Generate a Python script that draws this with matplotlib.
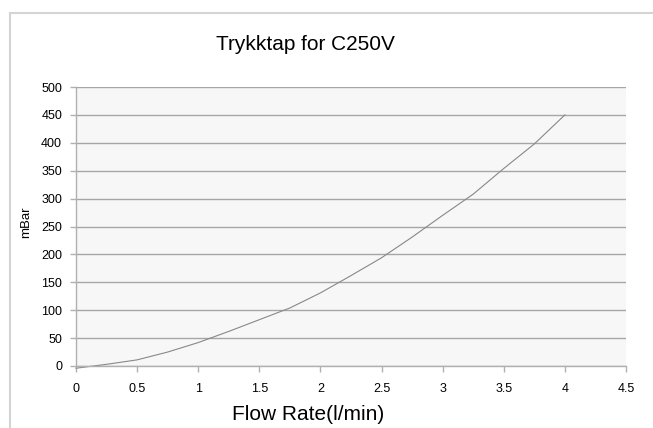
import matplotlib
matplotlib.use("Agg")
import matplotlib.pyplot as plt
from matplotlib.lines import Line2D

plt.rcParams['font.family'] = ['Liberation Sans', 'DejaVu Sans']

# Data
flow_rate = [0, 0.25, 0.5, 0.75, 1.0, 1.25, 1.5, 1.75, 2.0, 2.25, 2.5, 2.75,
             3.0, 3.25, 3.5, 3.75, 4.0]
pressure_mbar = [-4, 3, 11, 25, 42, 62, 83, 104, 131, 162, 194, 231,
                 270, 308, 354, 398, 450]

x_ticks = [0, 0.5, 1, 1.5, 2, 2.5, 3, 3.5, 4, 4.5]
x_tick_labels = ['0', '0.5', '1', '1.5', '2', '2.5', '3', '3.5', '4', '4.5']
y_ticks = [0, 50, 100, 150, 200, 250, 300, 350, 400, 450, 500]

W, H = 653, 428
fig = plt.figure(figsize=(W / 100, H / 100), dpi=100)
fig.patch.set_facecolor('white')

left, right, top, bottom = 76, 626, 87, 366
ax = fig.add_axes([left / W, 1 - bottom / H, (right - left) / W, (bottom - top) / H])
ax.set_facecolor('#f7f7f7')

ax.plot(flow_rate, pressure_mbar, color='#888888', linewidth=0.8, clip_on=False)

ax.set_xlim(0, 4.5)
ax.set_ylim(0, 500)
ax.set_xticks(x_ticks)
ax.set_xticklabels(x_tick_labels)
ax.set_yticks(y_ticks)
ax.yaxis.grid(True, color='#a6a6a6', linewidth=1.0)
ax.set_axisbelow(True)

for s in ['top', 'right']:
    ax.spines[s].set_visible(False)
for s in ['left', 'bottom']:
    ax.spines[s].set_color('#b0b0b0')
    ax.spines[s].set_linewidth(1.0)

ax.tick_params(axis='both', labelsize=9, colors='#000000', length=4,
               color='#b0b0b0', width=1.0)
ax.tick_params(axis='x', pad=8)
ax.tick_params(axis='y', pad=6)

ax.set_ylabel('mBar', fontsize=9.5)
ax.yaxis.set_label_coords((32 - left) / (right - left), (bottom - 222) / (bottom - top))

fig.text(308 / W, 1 - 414 / H, 'Flow Rate(l/min)', fontsize=15,
         ha='center', va='center')
fig.text(305 / W, 1 - 45 / H, 'Trykktap for C250V', fontsize=15,
         ha='center', va='center')

# chart frame lines (left and top)
fig.add_artist(Line2D([10 / W, 10 / W], [0, 1 - 13 / H], color='#d4d4d4',
                      linewidth=1.5, transform=fig.transFigure))
fig.add_artist(Line2D([10 / W, 1], [1 - 13 / H, 1 - 13 / H], color='#d4d4d4',
                      linewidth=1.5, transform=fig.transFigure))

fig.savefig('out.png', dpi=100, facecolor='white')
